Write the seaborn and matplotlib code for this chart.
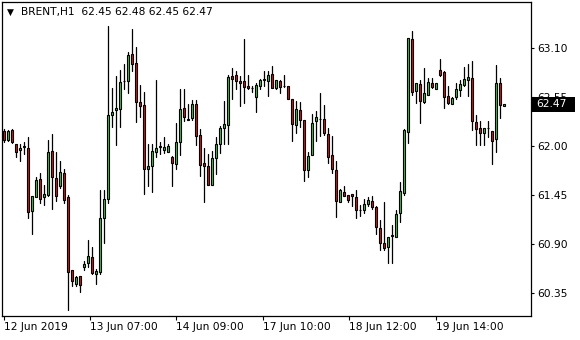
import numpy as np
import pandas as pd
import matplotlib
matplotlib.use("Agg")
import matplotlib.pyplot as plt
import matplotlib.transforms as mtransforms
from matplotlib.patches import Rectangle
import seaborn as sns

symbol_title = "BRENT,H1  62.45 62.48 62.45 62.47"
last_price = 62.47

open_ = [62.17, 62.07, 62.18, 62.03, 61.96, 61.99, 61.98, 61.27, 61.43, 61.63,
         61.43, 61.45, 61.95, 61.64, 61.55, 61.70, 61.43, 60.61, 60.46, 60.54,
         60.65, 60.69, 60.76, 60.57, 60.59, 61.19, 61.41, 62.35, 62.41, 62.42,
         62.73, 62.73, 63.04, 62.93, 62.50, 62.46, 61.75, 61.78, 61.94, 61.99,
         61.96, 61.94, 61.88, 61.80, 62.05, 62.43, 62.31, 62.32, 62.48, 62.13,
         61.81, 61.78, 61.57, 61.87, 62.03, 62.21, 62.24, 62.79, 62.80, 62.73,
         62.73, 62.68, 62.66, 62.55, 62.68, 62.74, 62.73, 62.81, 62.66, 62.73,
         62.68, 62.68, 62.53, 62.24, 62.41, 62.30, 61.73, 61.90, 62.28, 62.31,
         62.31, 62.14, 61.90, 61.73, 61.38, 61.49, 61.45, 61.46, 61.43, 61.29,
         61.29, 61.35, 61.39, 61.32, 61.08, 60.92, 60.87, 60.99, 60.98, 61.25,
         61.48, 62.16, 63.21, 62.62, 62.70, 62.50, 62.58, 62.71, 62.64, 62.86,
         62.83, 62.57, 62.48, 62.55, 62.63, 62.69, 62.75, 62.77, 62.27, 62.21,
         62.15, 62.21, 62.17, 62.08, 62.71, 62.45]

high = [62.20, 62.18, 62.19, 62.03, 62.03, 62.05, 62.11, 61.44, 61.66, 61.70,
        61.57, 62.07, 62.14, 61.94, 61.83, 61.75, 61.45, 60.61, 60.54, 60.54,
        60.71, 60.95, 60.87, 60.62, 61.51, 61.51, 63.35, 62.65, 62.79, 62.86,
        62.92, 63.06, 63.32, 63.12, 62.69, 62.61, 62.03, 62.03, 62.74, 62.05,
        62.11, 62.03, 61.89, 62.26, 62.64, 62.64, 62.48, 62.52, 62.52, 62.20,
        61.98, 61.91, 61.95, 62.11, 62.23, 62.51, 62.80, 62.88, 62.85, 62.79,
        63.20, 62.80, 62.68, 62.71, 62.76, 62.85, 62.85, 62.90, 62.75, 62.74,
        62.80, 62.68, 62.53, 62.51, 62.50, 62.30, 61.94, 62.36, 62.40, 62.60,
        62.46, 62.21, 62.12, 61.84, 61.52, 61.56, 61.45, 61.46, 61.51, 61.34,
        61.41, 61.43, 61.44, 61.33, 61.17, 61.37, 60.98, 61.12, 61.28, 61.60,
        62.19, 63.22, 63.29, 62.71, 62.74, 62.88, 62.77, 62.77, 62.71, 62.98,
        62.85, 62.68, 62.55, 62.71, 62.75, 62.89, 62.92, 62.96, 62.35, 62.28,
        62.21, 62.28, 62.17, 62.91, 62.77, 62.48]

low = [62.05, 62.06, 62.04, 61.88, 61.83, 61.91, 61.20, 61.02, 61.43, 61.36,
       61.34, 61.44, 61.30, 61.39, 61.53, 61.36, 60.16, 60.43, 60.43, 60.37,
       60.61, 60.65, 60.57, 60.46, 60.57, 60.92, 61.36, 62.22, 62.01, 62.22,
       62.64, 62.60, 62.84, 62.27, 62.33, 61.47, 61.55, 61.49, 61.88, 61.91,
       61.92, 61.94, 61.55, 61.74, 61.90, 62.28, 62.30, 62.30, 62.01, 61.67,
       61.37, 61.57, 61.57, 61.69, 61.92, 62.03, 62.03, 62.53, 62.64, 62.45,
       62.49, 62.64, 62.61, 62.38, 62.64, 62.68, 62.56, 62.66, 62.64, 62.60,
       62.67, 62.53, 62.06, 62.15, 62.22, 61.61, 61.66, 61.90, 62.06, 62.12,
       62.13, 61.81, 61.70, 61.21, 61.38, 61.44, 61.38, 61.33, 61.20, 61.22,
       61.25, 61.33, 61.30, 61.02, 60.84, 60.84, 60.69, 60.69, 60.98, 61.15,
       61.45, 62.04, 62.58, 62.49, 62.26, 62.49, 62.58, 62.66, 62.64, 62.79,
       62.43, 62.48, 62.48, 62.53, 62.56, 62.68, 62.57, 62.18, 62.01, 62.01,
       62.01, 62.10, 61.80, 61.94, 62.32, 62.45]

close = [62.07, 62.17, 62.05, 61.94, 61.98, 62.00, 61.26, 61.44, 61.62, 61.41,
         61.46, 61.94, 61.66, 61.44, 61.71, 61.40, 60.59, 60.49, 60.53, 60.44,
         60.68, 60.77, 60.58, 60.60, 61.19, 61.41, 62.35, 62.38, 62.43, 62.72,
         62.73, 63.03, 62.92, 62.50, 62.45, 61.75, 61.78, 61.95, 61.98, 62.00,
         61.99, 62.00, 61.81, 62.05, 62.42, 62.33, 62.30, 62.47, 62.12, 61.79,
         61.78, 61.57, 61.87, 62.03, 62.21, 62.25, 62.78, 62.76, 62.73, 62.71,
         62.67, 62.65, 62.65, 62.69, 62.74, 62.76, 62.80, 62.66, 62.74, 62.67,
         62.68, 62.53, 62.25, 62.42, 62.30, 61.73, 61.89, 62.26, 62.33, 62.31,
         62.15, 61.88, 61.74, 61.39, 61.51, 61.44, 61.40, 61.44, 61.29, 61.29,
         61.35, 61.40, 61.32, 61.09, 60.91, 60.86, 60.98, 61.00, 61.24, 61.50,
         62.18, 63.22, 62.61, 62.71, 62.51, 62.60, 62.72, 62.67, 62.71, 62.80,
         62.55, 62.49, 62.54, 62.64, 62.70, 62.76, 62.78, 62.28, 62.20, 62.15,
         62.21, 62.21, 62.06, 62.71, 62.46, 62.47]

y_ticks = [60.35, 60.90, 61.45, 62.00, 62.55, 63.10]
x_tick_pos = [0, 21.5, 43.1, 64.75, 86.3, 108]
x_tick_labels = ["12 Jun 2019", "13 Jun 07:00", "14 Jun 09:00",
                 "17 Jun 10:00", "18 Jun 12:00", "19 Jun 14:00"]

df = pd.DataFrame({"open": open_, "high": high, "low": low, "close": close})
df["idx"] = np.arange(len(df))
df["high"] = df[["high", "open", "close"]].max(axis=1)
df["low"] = df[["low", "open", "close"]].min(axis=1)

sns.set_theme(style="white")
plt.rcParams["font.family"] = ["DejaVu Sans"]
FS = 7.7

W, H = 580, 340
fig = plt.figure(figsize=(W / 100, H / 100), dpi=100)
fig.patch.set_facecolor("white")
L, R, T, B = 2.0, 530.7, 2.0, 315.7
ax = fig.add_axes([L / W, (H - B) / H, (R - L) / W, (B - T) / H])
ax.set_facecolor("white")

# wicks via seaborn lineplot (one unit per candle)
wicks = pd.concat([
    df[["idx", "low"]].rename(columns={"low": "price"}),
    df[["idx", "high"]].rename(columns={"high": "price"}),
])
sns.lineplot(data=wicks, x="idx", y="price", units="idx", estimator=None,
             color="black", linewidth=0.9, ax=ax, legend=False, zorder=2)

# bodies
bull = "#33CC33"
bear = "#E01010"
colors = np.where(df["close"] >= df["open"], bull, bear)
bottoms = np.minimum(df["open"], df["close"])
heights = np.abs(df["close"] - df["open"])
ax.bar(df["idx"], heights, bottom=bottoms, width=0.5, color=colors,
       edgecolor="black", linewidth=0.8, zorder=3)

ax.set_xlim(-0.425, 131.75)
ax.set_ylim(60.099, 63.62)
ax.set_xlabel("")
ax.set_ylabel("")

for s in ax.spines.values():
    s.set_visible(True)
    s.set_color("black")
    s.set_linewidth(0.9)

ax.yaxis.tick_right()
ax.set_yticks(y_ticks)
ax.set_yticklabels([f"{v:.2f}" for v in y_ticks])
ax.tick_params(axis="y", which="major", direction="out", length=2.5, width=0.8,
               color="black", pad=2.2, labelsize=FS, labelcolor="black",
               left=False, right=True)
ax.set_xticks(x_tick_pos)
ax.set_xticklabels(x_tick_labels)
for lab in ax.get_xticklabels():
    lab.set_horizontalalignment("left")
ax.tick_params(axis="x", which="major", direction="out", length=3.2, width=0.8,
               color="black", pad=1.5, labelsize=FS, labelcolor="black",
               bottom=True, top=False)

# current price box on the right axis
blend = mtransforms.blended_transform_factory(fig.transFigure, ax.transData)
px_per_unit = (B - T) / (63.62 - 60.099)
box_h = 14.5 / px_per_unit
rect = Rectangle((531 / W, last_price - box_h / 2), 44 / W, box_h,
                 transform=blend, facecolor="black", edgecolor="none",
                 clip_on=False, zorder=10)
ax.add_patch(rect)
ax.text(536 / W, last_price, f"{last_price:.2f}", transform=blend,
        color="white", fontsize=FS, va="center", ha="left",
        clip_on=False, zorder=11)

# title
fig.text(6.5 / W, 1 - 12.5 / H, "\u25BC", fontsize=6.5, color="black",
         va="center", ha="left")
fig.text(21 / W, 1 - 12.5 / H, symbol_title, fontsize=FS, color="black",
         va="center", ha="left")

fig.savefig("out.png", dpi=100, facecolor="white")
